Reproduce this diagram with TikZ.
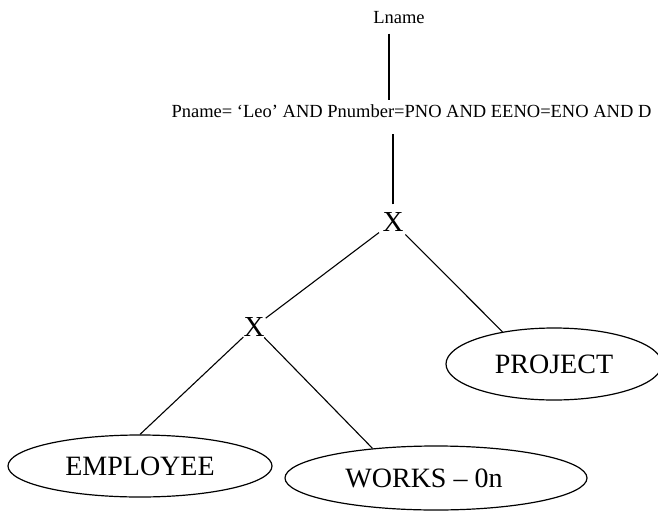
\documentclass[tikz,border=0pt]{standalone}
\usepackage{fontspec}
\setmainfont{Liberation Serif}
\usepackage{tikz}
\usetikzlibrary{positioning}
\usetikzlibrary{shapes}
\tikzset{table node/.style={ellipse,draw,line width=1.2pt,inner sep=0pt,font=\fontsize{28}{32}\selectfont},
	op node/.style={circle,inner sep=0pt,font=\fontsize{29}{32}\selectfont},
	cond node/.style={inner sep=0pt,font=\fontsize{18.5}{22}\selectfont},}

\begin{document}
\begin{tikzpicture}[x=1pt, y=-1pt, line width=1.1pt]
		\useasboundingbox (0,0) rectangle (658,511);
		\clip (0,0) rectangle (658,511);
		\node[cond node] (lname) at (399,18) {Lname};
		\node[cond node, anchor=base west] (pname) at (171,117) {Pname= ‘Leo’ AND Pnumber=PNO AND EENO=ENO AND D};
		\node[op node, minimum size=34pt] (x1) at (393,222) {X};
		\node[op node, minimum size=28pt] (x2) at (254,327) {X};
		\node[table node, minimum width=264pt, minimum height=62pt] (emp) at (140,466) {EMPLOYEE};
		\node[table node, minimum width=302pt, minimum height=64pt] (works) at (436,478) {WORKS -- 0n\hspace*{24pt}};
		\node[table node, minimum width=216pt, minimum height=72pt] (project) at (554,364) {PROJECT};

		\draw ([xshift=-10pt,yshift=-9pt]lname.south) -- ([xshift=-10pt,yshift=4pt]lname.south |- pname.north);
		\draw (x1.north) -- ([yshift=-16pt]x1.north |- pname.south);
		\path[draw]
		(x1) edge (x2)
		(x1) edge (project.148)
		(x2) edge (emp.north)
		(x2) edge (works.155);
\end{tikzpicture}
\end{document}
